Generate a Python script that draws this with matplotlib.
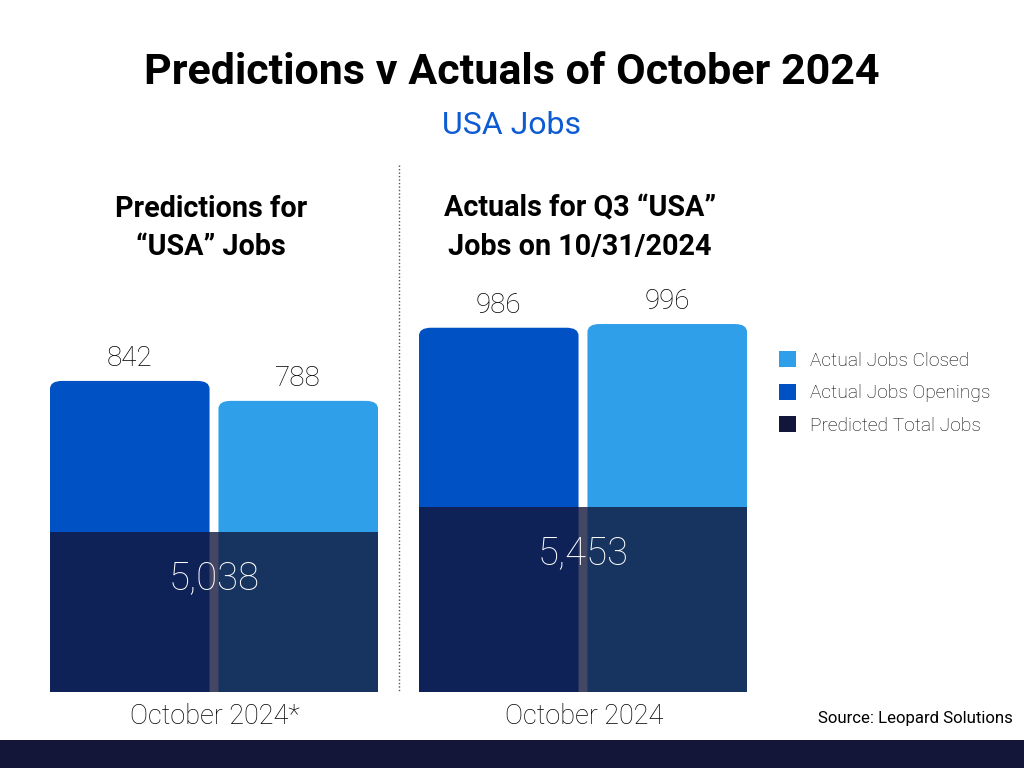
import matplotlib
matplotlib.use("Agg")
import matplotlib.pyplot as plt
from matplotlib.patches import FancyBboxPatch, Patch, Rectangle
from matplotlib.lines import Line2D

plt.rcParams['font.family'] = ['Roboto', 'DejaVu Sans']

# ---- data ----
groups = ["October 2024*", "October 2024"]
panel_titles = ["Predictions for\n\u201cUSA\u201d Jobs", "Actuals for Q3 \u201cUSA\u201d\nJobs on 10/31/2024"]
openings = [842, 986]
closed = [788, 996]
predicted = [5038, 5453]
series_names = ["Actual Jobs Closed", "Actual Jobs Openings", "Predicted Total Jobs"]

# ---- style ----
C_OPEN = "#0051c4"
C_CLOSED = "#2e9fe8"
C_PRED = "#12163a"
C_BAND = "#131639"
W, H = 1024, 768

fig = plt.figure(figsize=(W / 100, H / 100), dpi=100)

def fx(px):
    return px / W

def fy(py):
    return 1 - py / H

panel_left = [50, 419]
panel_w = 328
ax_top, ax_bot = 160, 692

for i in range(2):
    ax = fig.add_axes([fx(panel_left[i]), fy(ax_bot), fx(panel_w), (ax_bot - ax_top) / H])
    ax.set_xlim(-0.4734, 1.4734)
    ax.set_ylim(0, 1440)
    bars = ax.bar([0, 1], [openings[i], closed[i]], width=0.947, color=[C_OPEN, C_CLOSED])
    xpp = (1.4734 * 2) / panel_w
    ypp = 1440 / (ax_bot - ax_top)
    asp = ypp / xpp
    r = 8 * xpp
    for b in bars:
        b.set_visible(False)
        x0, w, h = b.get_x(), b.get_width(), b.get_height()
        p = FancyBboxPatch((x0, -300), w, h + 300,
                           boxstyle=f"round,pad=0,rounding_size={r}",
                           mutation_aspect=asp, facecolor=b.get_facecolor(),
                           edgecolor='none', zorder=2)
        ax.add_patch(p)
        ax.annotate(f"{h:,.0f}", (x0 + w / 2, h), xytext=(0, 15 * 0.72),
                    textcoords='offset points', ha='center', va='baseline',
                    fontsize=20, fontweight='light', color='#000000')
    ax.set_xticks([])
    ax.set_yticks([])
    for s in ax.spines.values():
        s.set_visible(False)
    ax.patch.set_visible(False)

    ax2 = ax.twinx()
    ax2.set_ylim(2382, 11219)
    ax2.bar([0.5], [predicted[i]], width=1.947, color=C_PRED, alpha=0.79, zorder=3)
    ax2.annotate(f"{predicted[i]:,}", (0.5, predicted[i]), xytext=(0, -46 * 0.72),
                 textcoords='offset points', ha='center', va='center',
                 fontsize=27.5, fontweight='light', color='white')
    ax2.set_xlim(-0.4734, 1.4734)
    ax2.set_yticks([])
    for s in ax2.spines.values():
        s.set_visible(False)

    cx = panel_left[i] + panel_w / 2
    fig.text(fx(cx + 1), fy(716), groups[i], ha='center', va='center',
             fontsize=19.5, fontweight='light', color='#000000')
    fig.text(fx(cx - 3), fy(228), panel_titles[i], ha='center', va='center',
             fontsize=20.7, fontweight='bold', color='#000000', linespacing=1.47)

# divider
fig.add_artist(Line2D([fx(399), fx(399)], [fy(165), fy(692)], color='#555555',
                      lw=1, linestyle=(0, (1, 1.5))))

# titles
fig.text(0.5, fy(73), "Predictions v Actuals of October 2024", ha='center', va='center',
         fontsize=31, fontweight='bold', color='#000000')
fig.text(0.5, fy(125), "USA Jobs", ha='center', va='center',
         fontsize=23, fontweight='normal', color='#0d5bd3')

# legend
handles = [Patch(facecolor=C_CLOSED), Patch(facecolor=C_OPEN), Patch(facecolor=C_PRED)]
fig.legend(handles, series_names, loc='upper left', bbox_to_anchor=(fx(779), fy(351)),
           frameon=False, handlelength=0.9, handleheight=0.9,
           handletextpad=0.74, labelspacing=0.74, borderpad=0, borderaxespad=0,
           prop={'family': 'Roboto', 'size': 13.8, 'weight': 'light'})

# source
fig.text(fx(1013), fy(719), "Source: Leopard Solutions", ha='right', va='center',
         fontsize=12.1, color='#000000')

# bottom band
fig.add_artist(Rectangle((0, 0), 1, 28 / H, transform=fig.transFigure,
                         facecolor=C_BAND, edgecolor='none'))

fig.savefig("out.png", dpi=100)
